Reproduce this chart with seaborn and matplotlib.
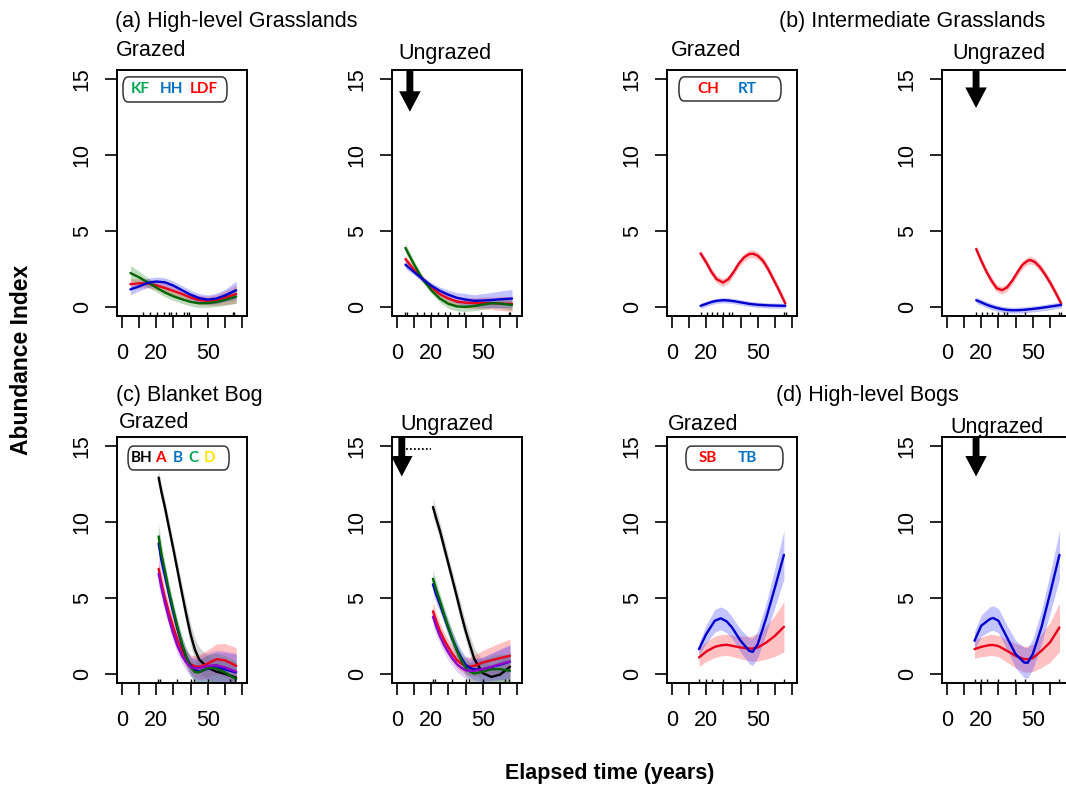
import numpy as np
import matplotlib
matplotlib.use('Agg')
import matplotlib.pyplot as plt
import seaborn as sns
from matplotlib.patches import FancyArrow, FancyBboxPatch

# ---- data ----
# (a) High-level Grasslands
hlg_g_x = np.array([5, 10, 15, 20, 25, 30, 35, 40, 45, 50, 55, 60, 66.5])
hlg_g_kf = np.array([2.23, 1.95, 1.62, 1.28, 0.95, 0.7, 0.5, 0.33, 0.24, 0.25, 0.32, 0.45, 0.68])
hlg_g_kf_se = np.array([0.5, 0.4, 0.3, 0.28, 0.28, 0.28, 0.28, 0.28, 0.28, 0.28, 0.3, 0.35, 0.45])
hlg_g_hh = np.array([1.15, 1.35, 1.58, 1.67, 1.62, 1.4, 1.1, 0.8, 0.58, 0.48, 0.55, 0.75, 1.1])
hlg_g_hh_se = np.array([0.35, 0.3, 0.3, 0.3, 0.3, 0.3, 0.3, 0.3, 0.3, 0.3, 0.35, 0.4, 0.6])
hlg_g_ldf = np.array([1.5, 1.55, 1.55, 1.42, 1.25, 1.05, 0.85, 0.62, 0.45, 0.4, 0.45, 0.6, 0.85])
hlg_g_ldf_se = np.array([0.35, 0.3, 0.3, 0.3, 0.3, 0.3, 0.3, 0.3, 0.3, 0.3, 0.35, 0.45, 0.6])
hlg_g_rug = [12.5, 16.3, 20.2, 24.5, 27.4, 28.4, 31.5, 36.4, 37.7, 39, 49.4, 64.6, 65.4]

hlg_u_x = np.array([5, 10, 15, 20, 25, 30, 35, 40, 45, 50, 55, 60, 67])
hlg_u_kf = np.array([3.88, 2.8, 1.83, 1.1, 0.55, 0.2, 0.03, 0.0, 0.06, 0.15, 0.24, 0.22, 0.13])
hlg_u_kf_se = np.array([0.3, 0.25, 0.2, 0.2, 0.25, 0.3, 0.3, 0.3, 0.3, 0.3, 0.3, 0.3, 0.35])
hlg_u_hh = np.array([2.78, 2.3, 1.83, 1.4, 1.06, 0.8, 0.6, 0.48, 0.4, 0.42, 0.45, 0.5, 0.55])
hlg_u_hh_se = np.array([0.25, 0.2, 0.2, 0.2, 0.25, 0.3, 0.35, 0.4, 0.4, 0.45, 0.5, 0.55, 0.6])
hlg_u_ldf = np.array([3.15, 2.45, 1.83, 1.3, 0.84, 0.55, 0.35, 0.28, 0.25, 0.25, 0.25, 0.22, 0.2])
hlg_u_ldf_se = np.array([0.25, 0.2, 0.2, 0.2, 0.25, 0.3, 0.3, 0.35, 0.35, 0.4, 0.4, 0.45, 0.5])
hlg_u_rug = [5, 6, 12, 16, 20, 24, 28, 31, 36, 39, 49, 65, 66]

# (b) Intermediate Grasslands
ig_g_x = np.array([16.7, 20, 23, 26, 29.8, 33, 36, 39, 42, 45, 47.3, 50, 53, 56, 59, 62, 66])
ig_g_ch = np.array([3.52, 2.93, 2.31, 1.83, 1.6, 1.83, 2.31, 2.86, 3.26, 3.48, 3.5, 3.37, 3.04, 2.49, 1.83, 1.17, 0.22])
ig_g_rt = np.array([0.07, 0.2, 0.32, 0.4, 0.44, 0.42, 0.38, 0.32, 0.26, 0.2, 0.17, 0.14, 0.12, 0.1, 0.09, 0.08, 0.07])
ig_g_rug = [16.7, 20.2, 23.2, 26.5, 30, 33.5, 34.9, 45.5, 65.3, 66.2]

ig_u_x = np.array([17.1, 20, 23, 26, 29, 32.1, 35, 38, 41, 44, 47, 48.6, 51, 54, 57, 60, 63, 66.5])
ig_u_ch = np.array([3.81, 3.04, 2.33, 1.72, 1.23, 1.1, 1.28, 1.72, 2.27, 2.78, 3.04, 3.08, 2.97, 2.64, 2.16, 1.61, 0.99, 0.22])
ig_u_rt = np.array([0.44, 0.3, 0.15, 0.03, -0.07, -0.15, -0.2, -0.22, -0.22, -0.2, -0.17, -0.15, -0.12, -0.08, -0.03, 0.02, 0.07, 0.13])
ig_u_rug = [17.1, 20.5, 23.5, 26.5, 30, 33.5, 35, 45.5, 65.5, 66.5]

# (c) Blanket Bog
bb_g_x = np.array([21.4, 23, 25, 27.5, 30, 32.5, 35, 37.5, 40, 42.5, 45, 50, 55, 60, 66.5])
bb_g_bh = np.array([12.93, 12.0, 11.0, 9.6, 8.2, 6.75, 5.3, 3.9, 2.6, 1.6, 0.95, 0.4, 0.15, 0.0, -0.25])
bb_g_a = np.array([6.92, 6.0, 5.04, 4.0, 3.06, 2.2, 1.52, 1.0, 0.64, 0.5, 0.46, 0.68, 0.97, 0.9, 0.53])
bb_g_b = np.array([8.6, 7.5, 6.5, 5.2, 4.0, 2.9, 1.9, 1.1, 0.55, 0.25, 0.15, 0.35, 0.45, 0.3, 0.1])
bb_g_c = np.array([9.05, 7.9, 6.8, 5.4, 4.2, 3.0, 2.0, 1.1, 0.45, 0.12, 0.1, 0.4, 0.35, 0.1, -0.35])
bb_g_d = np.array([6.59, 5.7, 4.71, 3.6, 2.62, 1.8, 1.19, 0.75, 0.45, 0.38, 0.37, 0.53, 0.57, 0.42, 0.15])
bb_g_bh_se = np.array([0.5, 0.5, 0.5, 0.5, 0.5, 0.55, 0.6, 0.65, 0.7, 0.75, 0.8, 0.8, 0.8, 0.9, 1.0])
bb_g_col_se = np.array([0.8, 0.7, 0.6, 0.55, 0.5, 0.5, 0.5, 0.55, 0.6, 0.7, 0.8, 0.9, 1.0, 1.1, 1.2])
bb_g_rug = [21, 22, 32, 40, 42, 50, 63, 66]

bb_u_x = np.array([21, 23, 25, 27.5, 30, 32.5, 35, 37.5, 40, 42.5, 45, 50, 55, 60, 65.8])
bb_u_bh = np.array([10.99, 10.2, 9.45, 8.35, 7.25, 6.15, 5.04, 3.9, 2.84, 1.9, 1.0, 0.05, -0.2, -0.05, 0.46])
bb_u_a = np.array([4.12, 3.45, 2.84, 2.25, 1.74, 1.3, 0.9, 0.68, 0.53, 0.5, 0.53, 0.75, 0.9, 1.04, 1.19])
bb_u_b = np.array([5.9, 5.2, 4.6, 3.8, 3.0, 2.25, 1.6, 1.05, 0.6, 0.4, 0.3, 0.3, 0.45, 0.6, 0.81])
bb_u_c = np.array([6.26, 5.5, 4.82, 3.9, 3.06, 2.25, 1.52, 0.9, 0.42, 0.15, 0.02, 0.15, 0.31, 0.31, 0.2])
bb_u_d = np.array([3.77, 3.1, 2.51, 1.9, 1.41, 0.98, 0.64, 0.4, 0.24, 0.2, 0.2, 0.31, 0.46, 0.64, 0.81])
bb_u_bh_se = np.array([0.6, 0.6, 0.55, 0.55, 0.5, 0.5, 0.55, 0.6, 0.6, 0.65, 0.7, 0.8, 0.8, 0.9, 1.0])
bb_u_col_se = np.array([0.6, 0.55, 0.5, 0.5, 0.5, 0.5, 0.5, 0.5, 0.55, 0.6, 0.7, 0.8, 0.9, 1.0, 1.1])
bb_u_rug = [21, 22, 32, 40, 42, 50, 63, 65]

# (d) High-level Bogs
hlb_g_x = np.array([15.8, 20, 25, 28.5, 32, 35, 40, 45, 47, 50, 55, 60, 65.2])
hlb_g_tb = np.array([1.63, 2.62, 3.5, 3.66, 3.45, 3.06, 2.18, 1.52, 1.45, 1.96, 3.72, 5.7, 7.84])
hlb_g_tb_se = np.array([0.4, 0.6, 0.75, 0.75, 0.75, 0.7, 0.75, 0.85, 0.9, 0.9, 1.0, 1.3, 1.6])
hlb_g_sb = np.array([1.08, 1.47, 1.78, 1.88, 1.92, 1.85, 1.74, 1.67, 1.67, 1.74, 2.07, 2.51, 3.1])
hlb_g_sb_se = np.array([0.6, 0.65, 0.7, 0.7, 0.7, 0.7, 0.75, 0.8, 0.85, 0.9, 1.1, 1.35, 1.65])
hlb_g_rug = [15.8, 20, 23.5, 29.8, 39.6, 45.4, 65.2]

hlb_u_x = np.array([16.1, 20, 25, 27, 30, 35, 40, 45, 47, 50, 55, 60, 65.5])
hlb_u_tb = np.array([2.18, 3.17, 3.61, 3.68, 3.5, 2.4, 1.3, 0.75, 0.73, 1.3, 3.06, 5.27, 7.84])
hlb_u_tb_se = np.array([0.6, 0.7, 0.8, 0.8, 0.8, 0.8, 0.9, 1.0, 1.0, 1.0, 1.1, 1.3, 1.6])
hlb_u_sb = np.array([1.63, 1.78, 1.9, 1.9, 1.83, 1.52, 1.19, 0.97, 0.97, 1.04, 1.52, 2.07, 3.06])
hlb_u_sb_se = np.array([0.6, 0.65, 0.7, 0.7, 0.7, 0.75, 0.8, 0.85, 0.85, 0.9, 1.1, 1.3, 1.6])
hlb_u_rug = [16.1, 20, 23.5, 30, 39.6, 45.4, 65.5]

x_ticks = [0, 10, 20, 30, 40, 50, 60, 70]
x_tick_labels = ['0', '', '20', '', '', '50', '', '']
y_ticks = [0, 5, 10, 15]

# colours (line, band)
GREEN = ('#006400', '#2e8b2e')
BLUE = ('#0000cd', '#3a3aff')
RED = ('#e8001c', '#ff3333')
BLACK = ('#000000', '#707070')
PURPLE = ('#9000c8', '#a060e0')

sns.set_style('white')
plt.rcParams['font.family'] = ['Liberation Sans', 'DejaVu Sans']
plt.rcParams['font.size'] = 15.5
for k in ['text.color', 'axes.labelcolor', 'xtick.color', 'ytick.color']:
    plt.rcParams[k] = 'black'

W, H = 1066, 786
fig = plt.figure(figsize=(W / 100, H / 100), dpi=100)


def px(x, y):
    return x / W, 1 - y / H


def make_ax(left, top):
    ax = fig.add_axes([left / W, 1 - (top + 246) / H, 130 / W, 246 / H])
    ax.set_xlim(-2.8, 72.8)
    ax.set_ylim(-0.6, 15.6)
    ax.set_xticks(x_ticks)
    ax.set_xticklabels(x_tick_labels)
    ax.set_yticks(y_ticks)
    ax.set_yticklabels([str(v) for v in y_ticks], rotation=90, va='center')
    ax.tick_params(axis='x', length=8.5, width=1.2, pad=11, direction='out', bottom=True, labelsize=15.5)
    ax.tick_params(axis='y', length=8.5, width=1.2, pad=9, direction='out', left=True, labelsize=15.5)
    for s in ax.spines.values():
        s.set_color('black')
        s.set_linewidth(1.4)
    return ax


def draw(ax, x, series, rug):
    for y, se, col in series:
        ax.fill_between(x, y - se, y + se, color=col[1], alpha=0.3, lw=0)
    for y, se, col in series:
        sns.lineplot(x=x, y=y, ax=ax, color=col[0], lw=1.7)
    sns.rugplot(x=rug, ax=ax, height=0.018, color='black', lw=1)
    ax.set_xlabel('')
    ax.set_ylabel('')


def legend(ax, x0, x1, y0, y1, items):
    box = FancyBboxPatch((x0, y0), x1 - x0, y1 - y0, boxstyle='round,pad=0,rounding_size=0.04',
                         transform=ax.transAxes, fc='white', ec='#333333', lw=1.1, zorder=5)
    ax.add_patch(box)
    for xt, txt, c in items:
        ax.text(xt, (y0 + y1) / 2, txt, color=c, transform=ax.transAxes, ha='center', va='center',
                fontsize=11, fontweight='bold', family=['Lato', 'DejaVu Sans'], zorder=6)


def arrow(ax, x, tip):
    ax.add_patch(FancyArrow(x, 15.6, 0, tip - 15.6, width=4.0, head_width=12.5, head_length=1.35,
                            length_includes_head=True, color='black', lw=0, clip_on=False, zorder=7))


cols = [117, 392, 667, 942]
rows = [70, 437]

ax = make_ax(cols[0], rows[0])
draw(ax, hlg_g_x, [(hlg_g_ldf, hlg_g_ldf_se, RED), (hlg_g_kf, hlg_g_kf_se, GREEN),
                   (hlg_g_hh, hlg_g_hh_se, BLUE)], hlg_g_rug)
legend(ax, 0.046, 0.846, 0.87, 0.972, [(0.18, 'KF', '#00a651'), (0.42, 'HH', '#0070c0'), (0.67, 'LDF', '#ff0000')])

ax = make_ax(cols[1], rows[0])
draw(ax, hlg_u_x, [(hlg_u_ldf, hlg_u_ldf_se, RED), (hlg_u_kf, hlg_u_kf_se, GREEN),
                   (hlg_u_hh, hlg_u_hh_se, BLUE)], hlg_u_rug)
arrow(ax, 7.6, 12.85)

ax = make_ax(cols[2], rows[0])
draw(ax, ig_g_x, [(ig_g_ch, 0.25, RED), (ig_g_rt, 0.17, BLUE)], ig_g_rug)
legend(ax, 0.092, 0.877, 0.874, 0.972, [(0.315, 'CH', '#ff0000'), (0.62, 'RT', '#0070c0')])

ax = make_ax(cols[3], rows[0])
draw(ax, ig_u_x, [(ig_u_ch, 0.25, RED), (ig_u_rt, 0.2, BLUE)], ig_u_rug)
arrow(ax, 17, 13.1)

ax = make_ax(cols[0], rows[1])
draw(ax, bb_g_x, [(bb_g_bh, bb_g_bh_se, BLACK), (bb_g_a, bb_g_col_se, RED), (bb_g_b, bb_g_col_se, BLUE),
                  (bb_g_c, bb_g_col_se, GREEN), (bb_g_d, bb_g_col_se, PURPLE)], bb_g_rug)
legend(ax, 0.085, 0.862, 0.866, 0.963, [(0.19, 'BH', 'black'), (0.33, 'A', '#ff0000'), (0.47, 'B', '#0070c0'),
                                       (0.59, 'C', '#00a651'), (0.715, 'D', '#ffe600')])

ax = make_ax(cols[1], rows[1])
draw(ax, bb_u_x, [(bb_u_bh, bb_u_bh_se, BLACK), (bb_u_a, bb_u_col_se, RED), (bb_u_b, bb_u_col_se, BLUE),
                  (bb_u_c, bb_u_col_se, GREEN), (bb_u_d, bb_u_col_se, PURPLE)], bb_u_rug)
arrow(ax, 2.9, 13.0)
ax.plot([5.5, 20], [14.8, 14.8], color='black', lw=1.3, ls=(0, (1, 1.2)))

ax = make_ax(cols[2], rows[1])
draw(ax, hlb_g_x, [(hlb_g_sb, hlb_g_sb_se, RED), (hlb_g_tb, hlb_g_tb_se, BLUE)], hlb_g_rug)
legend(ax, 0.146, 0.892, 0.866, 0.963, [(0.315, 'SB', '#ff0000'), (0.62, 'TB', '#0070c0')])

ax = make_ax(cols[3], rows[1])
draw(ax, hlb_u_x, [(hlb_u_sb, hlb_u_sb_se, RED), (hlb_u_tb, hlb_u_tb_se, BLUE)], hlb_u_rug)
arrow(ax, 17, 13.0)

# titles
fig.text(*px(115, 22), '(a) High-level Grasslands', ha='left', va='center')
fig.text(*px(116, 51), 'Grazed', ha='left', va='center')
fig.text(*px(398, 53), 'Ungrazed', ha='left', va='center')
fig.text(*px(1045, 22), '(b) Intermediate Grasslands', ha='right', va='center')
fig.text(*px(671, 50), 'Grazed', ha='left', va='center')
fig.text(*px(952, 53), 'Ungrazed', ha='left', va='center')

fig.text(*px(116, 395), '(c) Blanket Bog', ha='left', va='center')
fig.text(*px(119, 422), 'Grazed', ha='left', va='center')
fig.text(*px(400, 424), 'Ungrazed', ha='left', va='center')
fig.text(*px(776, 395), '(d) High-level Bogs', ha='left', va='center')
fig.text(*px(668, 424), 'Grazed', ha='left', va='center')
fig.text(*px(950, 427), 'Ungrazed', ha='left', va='center')

fig.text(*px(22, 360), 'Abundance Index', rotation=90, ha='center', va='center', fontweight='bold', fontsize=16.5)
fig.text(*px(610, 773), 'Elapsed time (years)', ha='center', va='center', fontweight='bold')

fig.savefig('out.png', dpi=100, facecolor='white')
